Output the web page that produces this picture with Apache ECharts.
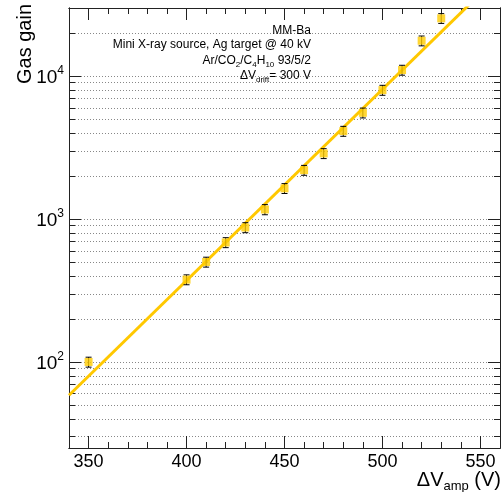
<!DOCTYPE html>
<html><head><meta charset="utf-8">
<script src="https://cdn.jsdelivr.net/npm/echarts@6/dist/echarts.min.js"></script>
<style>html,body{margin:0;padding:0;background:#fff}#c{width:503px;height:492px}</style>
</head><body><div id="c"></div>
<script>
// ---- data ----
const voltages   = [350, 400, 410, 420, 430, 440, 450, 460, 470, 480, 490, 500, 510, 520, 530];
const gains      = [100, 377, 501, 686, 873, 1167, 1640, 2200, 2880, 4125, 5540, 7990, 11040, 17700, 25400];
const gainErrors = [8, 30, 40, 55, 70, 95, 130, 175, 230, 330, 440, 640, 880, 1400, 2000];
const fitVoltages = [340, 560];
const fitGains    = [58.5, 51400];
const xMajorTicks = [350, 400, 450, 500, 550];
const xMinorTicks = [360, 370, 380, 390, 410, 420, 430, 440, 460, 470, 480, 490, 510, 520, 530, 540];
const yMajorTicks = [100, 1000, 10000];
const yMinorTicks = [30, 40, 50, 60, 70, 80, 90, 200, 300, 400, 500, 600, 700, 800, 900,
                     2000, 3000, 4000, 5000, 6000, 7000, 8000, 9000, 20000];
const xRange = [340, 560];
const yRange = [25, 30000];
const legendLines = [
  '{n|MM-Ba}',
  '{n|Mini X-ray source, Ag target @ 40 kV}',
  '{n|Ar/CO}{sub|2}{n|/C}{sub|4}{n|H}{sub|10}{n| 93/5/2}',
  '{n|\u0394V}{sub|drift}{n|= 300 V}'
];
const yTitle = 'Gas gain';
const xTitle = '{n|\u0394V}{sub|amp}{n| (V)}';

// ---- chart ----
const FONT = '"Liberation Sans", Arial, Helvetica, sans-serif';
const AX = '#222';
const chart = echarts.init(document.getElementById('c'), null, {renderer: 'canvas'});

function xAxisDef(pos, ticks, len, labels) {
  return {
    type: 'value', position: pos, min: xRange[0], max: xRange[1],
    axisLine: {show: true, lineStyle: {color: AX, width: 1}},
    axisTick: {show: true, inside: true, length: len, customValues: ticks, lineStyle: {color: AX, width: 1}},
    axisLabel: labels ? {show: true, customValues: ticks, fontSize: 18, fontFamily: FONT, color: '#000', margin: 5} : {show: false},
    splitLine: {show: false}
  };
}
function yAxisDef(pos, ticks, len, labels, grid) {
  return {
    type: 'log', logBase: 10, position: pos, min: yRange[0], max: yRange[1],
    axisLine: {show: true, lineStyle: {color: AX, width: 1}},
    axisTick: {show: true, inside: true, length: len, customValues: ticks, lineStyle: {color: AX, width: 1}},
    axisLabel: labels ? {
      show: true, customValues: ticks, margin: 5,
      formatter: v => '{b|10}{s|' + Math.round(Math.log10(v)) + '}',
      rich: {
        b: {fontSize: 19, fontFamily: FONT, color: '#000', padding: [4, 0, 0, 0]},
        s: {fontSize: 12, fontFamily: FONT, color: '#000', verticalAlign: 'top'}
      }
    } : {show: false},
    splitLine: grid ? {show: true, lineStyle: {color: '#888', width: 1, type: [1, 2]}} : {show: false}
  };
}

const subRich = {
  n: {fontSize: 12, fontFamily: FONT, color: '#000', lineHeight: 16},
  sub: {fontSize: 8, fontFamily: FONT, color: '#000', verticalAlign: 'bottom', lineHeight: 12}
};
const legendY = [30.5, 45, 61, 76];

const option = {
  animation: false,
  backgroundColor: '#fff',
  grid: {left: 69, right: 3, top: 8, bottom: 44, containLabel: false},
  xAxis: [
    xAxisDef('bottom', xMajorTicks, 12, true),
    xAxisDef('bottom', xMinorTicks, 6, false),
    xAxisDef('top', xMajorTicks, 12, false),
    xAxisDef('top', xMinorTicks, 6, false)
  ],
  yAxis: [
    yAxisDef('left', yMajorTicks, 12, true, true),
    yAxisDef('left', yMinorTicks, 6, false, true),
    yAxisDef('right', yMajorTicks, 12, false, false),
    yAxisDef('right', yMinorTicks, 6, false, false)
  ],
  graphic: [
    {type: 'text', x: 25, y: 44, rotation: Math.PI / 2, z: 10,
     style: {text: yTitle, fontSize: 20, fontFamily: FONT, fill: '#000', align: 'center', verticalAlign: 'middle'}},
    {type: 'text', x: 501, y: 480, z: 10,
     style: {text: xTitle, align: 'right', verticalAlign: 'middle',
             rich: {n: {fontSize: 20, fontFamily: FONT, color: '#000', lineHeight: 26},
                    sub: {fontSize: 13, fontFamily: FONT, color: '#000', verticalAlign: 'bottom', lineHeight: 14}}}}
  ].concat(legendLines.map((t, i) => ({
    type: 'text', x: 311, y: legendY[i], z: 10,
    style: {text: t, align: 'right', verticalAlign: 'middle', rich: subRich}
  }))),
  series: [
    {
      type: 'line', xAxisIndex: 0, yAxisIndex: 0, z: 2,
      data: fitVoltages.map((v, i) => [v, fitGains[i]]),
      showSymbol: false, symbol: 'none', clip: true,
      lineStyle: {color: '#FFC800', width: 3}
    },
    {
      type: 'custom', xAxisIndex: 0, yAxisIndex: 0, z: 3, clip: true,
      data: voltages.map((v, i) => [v, gains[i] - gainErrors[i], gains[i] + gainErrors[i]]),
      renderItem: function (params, api) {
        const lo = api.coord([api.value(0), api.value(1)]);
        const hi = api.coord([api.value(0), api.value(2)]);
        const w = 3;
        const st = {stroke: '#000', lineWidth: 1};
        return {type: 'group', children: [
          {type: 'line', shape: {x1: lo[0], y1: lo[1], x2: hi[0], y2: hi[1]}, style: st},
          {type: 'line', shape: {x1: lo[0] - w, y1: lo[1], x2: lo[0] + w, y2: lo[1]}, style: st},
          {type: 'line', shape: {x1: hi[0] - w, y1: hi[1], x2: hi[0] + w, y2: hi[1]}, style: st}
        ]};
      }
    },
    {
      type: 'scatter', xAxisIndex: 0, yAxisIndex: 0, z: 4,
      data: voltages.map((v, i) => [v, gains[i]]),
      symbol: 'rect', symbolSize: 8,
      itemStyle: {color: '#FFCC00'}
    }
  ]
};
chart.setOption(option);
</script>
</body></html>
